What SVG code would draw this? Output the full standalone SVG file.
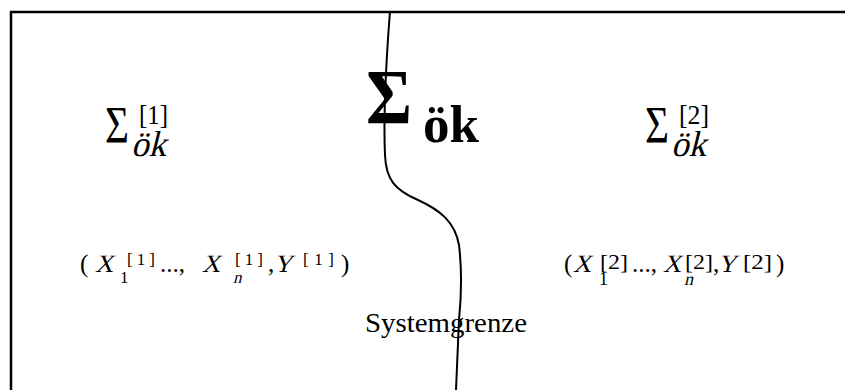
<svg xmlns="http://www.w3.org/2000/svg" width="845" height="390" viewBox="0 0 845 390">
<style>
.t{font-family:"Liberation Serif","Times New Roman","DejaVu Serif",serif;fill:#000}
.line{fill:none;stroke:#000}
</style>
<rect width="845" height="390" fill="#fff"/>
<g id="frame"><path class="line" d="M11 390 L11 12 L845 12" stroke-width="2.5"/></g>
<g id="connectors"><path id="systemgrenze-line" class="line" stroke-width="2" d="M390 11 C387 50,383 110,385 155 C386 180,395 190,418 200 C440 210,455 222,459 245 C462 270,461 300,459 320 L456 390"/></g>
<g id="sigma-main">
<text class="t" x="366" y="123" font-size="78" font-weight="bold" textLength="46" lengthAdjust="spacingAndGlyphs">Σ</text>
<text class="t" x="423" y="142" font-size="52" font-weight="bold" textLength="56" lengthAdjust="spacingAndGlyphs">ök</text>
</g>
<g id="sigma-1">
<text class="t" x="105" y="143" font-size="52" textLength="24" lengthAdjust="spacingAndGlyphs">Σ</text>
<text class="t" x="139" y="124" font-size="27" textLength="29" lengthAdjust="spacingAndGlyphs">[1]</text>
<text class="t" transform="translate(131 156) skewX(-14)" font-size="36" textLength="35" lengthAdjust="spacingAndGlyphs">ök</text>
</g>
<g id="sigma-2">
<text class="t" x="645" y="143" font-size="52" textLength="24" lengthAdjust="spacingAndGlyphs">Σ</text>
<text class="t" x="679" y="124" font-size="27" textLength="30" lengthAdjust="spacingAndGlyphs">[2]</text>
<text class="t" transform="translate(671 156) skewX(-14)" font-size="36" textLength="35" lengthAdjust="spacingAndGlyphs">ök</text>
</g>
<g id="tuple-1">
<text class="t" y="272" font-size="25"><tspan x="80">(</tspan><tspan x="160">...,</tspan><tspan x="268">,</tspan><tspan x="341">)</tspan></text>
<text class="t" transform="translate(95 272) skewX(-14)" font-size="25">X</text>
<text class="t" transform="translate(202 272) skewX(-14)" font-size="25">X</text>
<text class="t" transform="translate(274 272) skewX(-14)" font-size="25">Y</text>
<text class="t" y="265" font-size="17"><tspan x="127" textLength="28" lengthAdjust="spacing">[1]</tspan><tspan x="235" textLength="28" lengthAdjust="spacing">[1]</tspan><tspan x="303" textLength="31" lengthAdjust="spacing">[1]</tspan></text>
<text class="t" x="120" y="283" font-size="17">1</text>
<text class="t" transform="translate(233 283) skewX(-14)" font-size="17">n</text>
</g>
<g id="tuple-2">
<text class="t" y="272" font-size="25"><tspan x="564">(</tspan><tspan x="632">...,</tspan><tspan x="713">,</tspan><tspan x="776">)</tspan></text>
<text class="t" transform="translate(573 272) skewX(-14)" font-size="25">X</text>
<text class="t" transform="translate(663 272) skewX(-14)" font-size="25">X</text>
<text class="t" transform="translate(718 272) skewX(-14)" font-size="25">Y</text>
<text class="t" y="269" font-size="21"><tspan x="600" textLength="28" lengthAdjust="spacingAndGlyphs">[2]</tspan><tspan x="685" textLength="28" lengthAdjust="spacingAndGlyphs">[2]</tspan><tspan x="743" textLength="29" lengthAdjust="spacingAndGlyphs">[2]</tspan></text>
<text class="t" x="599" y="285" font-size="18">1</text>
<text class="t" transform="translate(684 285) skewX(-14)" font-size="18">n</text>
</g>
<g id="label"><text class="t" x="365" y="332" font-size="28" textLength="162" lengthAdjust="spacingAndGlyphs">Systemgrenze</text></g>
</svg>
